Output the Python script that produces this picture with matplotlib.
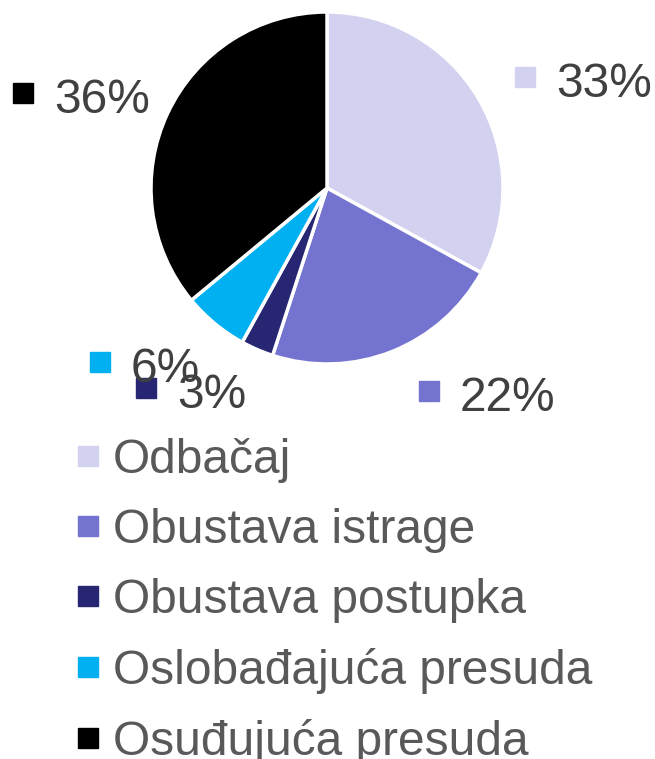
import matplotlib.pyplot as plt
from matplotlib.lines import Line2D

plt.rcParams["font.family"] = ["Liberation Sans", "DejaVu Sans"]

# --- data ---
categories = ["Odbačaj", "Obustava istrage", "Obustava postupka",
              "Oslobađajuća presuda", "Osuđujuća presuda"]
shares = [33, 22, 3, 6, 36]
colors = ["#D2D2F0", "#7474D0", "#262673", "#00B0F0", "#000000"]

# label anchor (figure pixels from top-left) for each percentage label: marker centre
LABEL_POS = [(525, 77), (429, 391), (146, 388), (100, 362), (23, 93)]

W, H = 655, 759
fig = plt.figure(figsize=(W / 100, H / 100), dpi=100)

# pie axes: centre (327, 188), radius 176 px
cx, cy, r = 327, 188, 176
ax = fig.add_axes([(cx - r) / W, 1 - (cy + r) / H, 2 * r / W, 2 * r / H])
ax.pie(shares, colors=colors, startangle=90, counterclock=False,
       wedgeprops=dict(edgecolor="white", linewidth=2.5))
ax.set_xlim(-1, 1)
ax.set_ylim(-1, 1)
ax.set_aspect("equal")

# percentage labels with square keys
for val, col, (px, py) in zip(shares, colors, LABEL_POS):
    fx, fy = px / W, 1 - py / H
    fig.add_artist(Line2D([fx], [fy], marker="s", markersize=14.4,
                          color=col, linestyle="none", transform=fig.transFigure))
    fig.text(fx + 31 / W, fy - 20 / H, f"{val}%", fontsize=34.5, color="#404040",
             ha="left", va="baseline")

# legend
handles = [Line2D([], [], marker="s", markersize=14.4, color=c, linestyle="none")
           for c in colors]
fig.legend(handles, categories, loc="upper left", bbox_to_anchor=(77 / W, 1 - 438 / H),
           frameon=False, fontsize=34.5, labelcolor="#595959",
           handlelength=0.45, handletextpad=0.3, labelspacing=0.52,
           borderpad=0, borderaxespad=0)

fig.savefig("out.png", dpi=100)
